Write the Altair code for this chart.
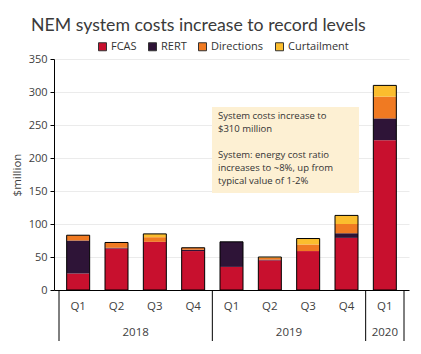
import altair as alt
import pandas as pd

quarters = ["Q1", "Q2", "Q3", "Q4", "Q1", "Q2", "Q3", "Q4", "Q1"]
years = ["2018", "2018", "2018", "2018", "2019", "2019", "2019", "2019", "2020"]
series = ["FCAS", "RERT", "Directions", "Curtailment"]
colors = ["#C8102E", "#2E1437", "#F07A22", "#FBBD2E"]
fcas = [25, 63, 73, 59, 35, 45, 59, 79, 227]
rert = [50, 1, 0, 2, 38, 1, 0, 7, 33]
directions = [8, 8, 7, 3, 0, 3, 10, 14, 33]
curtailment = [0, 0, 5, 0, 0, 1, 9, 13, 17]
note_para1 = ["System costs increase to", "$310 million"]
note_para2 = ["System: energy cost ratio", "increases to ~8%, up from",
              "typical value of 1-2%"]
title_text = "NEM system costs increase to record levels"

W, H = 355, 231
FONT = "Open Sans"

rows = []
for s_i, (name, vals) in enumerate(zip(series, [fcas, rert, directions, curtailment])):
    for i, v in enumerate(vals):
        rows.append({"idx": i, "quarter": quarters[i], "year": years[i],
                     "series": name, "value": v, "order": s_i})
df = pd.DataFrame(rows)
tot = df.groupby("idx", as_index=False)["value"].sum()
qdf = pd.DataFrame({"idx": list(range(len(quarters))), "quarter": quarters, "year": years})
ydf = qdf.groupby("year", as_index=False)["idx"].mean()
seps = sorted(set(qdf.groupby("year")["idx"].min() - 0.5) | {len(quarters) - 0.5})
sdf = pd.DataFrame({"pos": seps})
one = pd.DataFrame({"k": [0]})

xscale = alt.Scale(domain=[-0.5, len(quarters) - 0.5], nice=False, zero=False)
yscale = alt.Scale(domain=[0, 350], nice=False)

x_axis = alt.Axis(labels=False, ticks=False, grid=False, title=None,
                  domainColor="black", domainWidth=1)
y_axis = alt.Axis(values=list(range(0, 351, 50)), title="$million",
                  grid=True, gridColor="#EBEBEB", domainColor="black",
                  tickColor="black", tickSize=4, labelPadding=3,
                  labelFontSize=11, labelColor="#404040", titleFontSize=11.5,
                  titleColor="#404040", titleFontWeight="normal",
                  titlePadding=6, labelFont=FONT, titleFont=FONT,
                  labelOverlap=False)


def X(field):
    return alt.X(field, scale=xscale, axis=x_axis)


def Y(field, **kw):
    return alt.Y(field, scale=yscale, axis=y_axis, **kw)


bars = alt.Chart(df).mark_bar(width=23).encode(
    x=X("idx:Q"),
    y=Y("value:Q", stack="zero"),
    color=alt.Color("series:N", scale=alt.Scale(domain=series, range=colors),
                    legend=alt.Legend(orient="none", legendX=43, legendY=-18,
                                      direction="horizontal", title=None,
                                      symbolType="square", symbolSize=64,
                                      symbolStrokeColor="#333", symbolStrokeWidth=1,
                                      labelFontSize=11, labelColor="#333",
                                      labelFont=FONT, columnPadding=9,
                                      labelOffset=3)),
    order=alt.Order("order:Q"),
)

outline = alt.Chart(tot).mark_bar(width=23, fillOpacity=0, stroke="black",
                                  strokeWidth=1).encode(
    x=X("idx:Q"),
    y=Y("value:Q"),
)

qlabels = alt.Chart(qdf).mark_text(fontSize=11.5, color="#404040", font=FONT,
                                   baseline="middle").encode(
    x=X("idx:Q"), y=alt.value(H + 17), text="quarter:N")

ylabels = alt.Chart(ydf).mark_text(fontSize=11.5, color="#404040", font=FONT,
                                   baseline="middle").encode(
    x=X("idx:Q"), y=alt.value(H + 43), text="year:N")

sep = alt.Chart(sdf).mark_rule(color="black", strokeWidth=1).encode(
    x=X("pos:Q"), y=alt.value(H), y2=alt.value(H + 51))

box = alt.Chart(one).mark_rect(color="#FDF0D3").encode(
    x=alt.value(158), x2=alt.value(305), y=alt.value(48), y2=alt.value(134))

note1 = alt.Chart(one).mark_text(align="left", baseline="top", fontSize=9.5,
                                 lineHeight=13, color="#333333", font=FONT,
                                 text=note_para1).encode(
    x=alt.value(164), y=alt.value(52))

note2 = alt.Chart(one).mark_text(align="left", baseline="top", fontSize=9.5,
                                 lineHeight=13, color="#333333", font=FONT,
                                 text=note_para2).encode(
    x=alt.value(164), y=alt.value(91))

chart = alt.layer(bars, outline, box, note1, note2, qlabels, ylabels, sep).properties(
    width=W, height=H,
    title=alt.TitleParams(title_text, anchor="start", frame="group", fontSize=17.7,
                          font="Lato", color="#3A3A3A", fontWeight="normal",
                          dx=-23, offset=6),
    padding={"left": 54, "top": 59, "right": 12, "bottom": 64},
    autosize=alt.AutoSizeParams(type="none"),
).configure_view(stroke=None)

chart.save("out.html", embed_options={"renderer": "svg", "actions": False})
